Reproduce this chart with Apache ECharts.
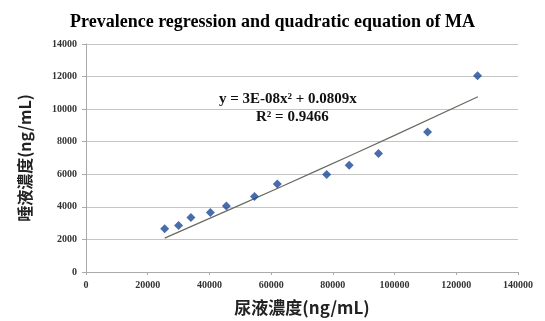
<!DOCTYPE html>
<html>
<head>
<meta charset="utf-8">
<script src="https://cdn.jsdelivr.net/npm/echarts@6/dist/echarts.min.js"></script>
<style>
  html, body { margin: 0; padding: 0; background: #fff; }
  #main { width: 545px; height: 321px; }
</style>
</head>
<body>
<div id="main"></div>
<script>
// 尿液濃度 (x) / 唾液濃度 (y)
var urineConc = [25500, 30000, 34000, 40300, 45500, 54600, 62000, 78000, 85300, 94800, 110700, 126900];
var salivaConc = [2650, 2860, 3340, 3650, 4050, 4630, 5400, 5990, 6560, 7280, 8600, 12050];

// trend line
var trendX = [25500, 50000, 75000, 100000, 127000];
var trendY = [2080, 4120, 6240, 8390, 10760];

var xTicks = [0, 20000, 40000, 60000, 80000, 100000, 120000, 140000];
var yTicks = [0, 2000, 4000, 6000, 8000, 10000, 12000, 14000];

function pairs(xs, ys) {
    var ret = [];
    for (var i = 0; i < xs.length; i++) {
        ret.push([xs[i], ys[i]]);
    }
    return ret;
}

var chart = echarts.init(document.getElementById('main'));
var serif = '"Liberation Serif", "DejaVu Serif", serif';
var cjk = '"Noto Sans CJK TC", "Noto Sans CJK SC", sans-serif';

var option = {
    backgroundColor: '#fff',
    animation: false,
    title: {
        text: 'Prevalence regression and quadratic equation of MA',
        left: 'center',
        top: 8,
        textStyle: {
            fontFamily: serif,
            fontWeight: 'bold',
            fontSize: 18,
            color: '#000'
        }
    },
    grid: {
        left: 86,
        right: 27,
        top: 44,
        bottom: 48
    },
    xAxis: {
        type: 'value',
        min: xTicks[0],
        max: xTicks[xTicks.length - 1],
        interval: 20000,
        name: '尿液濃度(ng/mL)',
        nameLocation: 'middle',
        nameGap: 27,
        nameTextStyle: { fontFamily: cjk, fontWeight: 'bold', fontSize: 17, color: '#222' },
        splitLine: { show: false },
        axisLine: { show: true, lineStyle: { color: '#aaa' } },
        axisTick: { show: true, length: 3, lineStyle: { color: '#aaa' } },
        axisLabel: {
            fontFamily: serif, fontWeight: 'bold', fontSize: 10, color: '#333', margin: 8,
            formatter: function (v) { return String(v); }
        }
    },
    yAxis: {
        type: 'value',
        min: yTicks[0],
        max: yTicks[yTicks.length - 1],
        interval: 2000,
        name: '唾液濃度(ng/mL)',
        nameLocation: 'middle',
        nameGap: 53,
        nameTextStyle: { fontFamily: cjk, fontWeight: 'bold', fontSize: 16, color: '#222' },
        splitLine: { show: true, lineStyle: { color: '#c4c4c4', width: 1 } },
        axisLine: { show: true, lineStyle: { color: '#aaa' } },
        axisTick: { show: true, length: 4, lineStyle: { color: '#aaa' } },
        axisLabel: {
            fontFamily: serif, fontWeight: 'bold', fontSize: 10, color: '#333', margin: 9,
            formatter: function (v) { return String(v); }
        }
    },
    graphic: [
        {
            type: 'text',
            left: 219,
            top: 92,
            style: {
                text: 'y = 3E-08x² + 0.0809x',
                font: 'bold 15px "Liberation Serif", serif',
                fill: '#111'
            }
        },
        {
            type: 'text',
            left: 256,
            top: 110,
            style: {
                text: 'R² = 0.9466',
                font: 'bold 15px "Liberation Serif", serif',
                fill: '#111'
            }
        }
    ],
    series: [
        {
            type: 'line',
            data: pairs(trendX, trendY),
            smooth: true,
            symbol: 'none',
            lineStyle: { color: '#6a6a62', width: 1.2 },
            z: 2
        },
        {
            type: 'scatter',
            data: pairs(urineConc, salivaConc),
            symbol: 'diamond',
            symbolSize: 9,
            itemStyle: { color: '#1b4896' },
            z: 3
        }
    ]
};
chart.setOption(option);
</script>
</body>
</html>
